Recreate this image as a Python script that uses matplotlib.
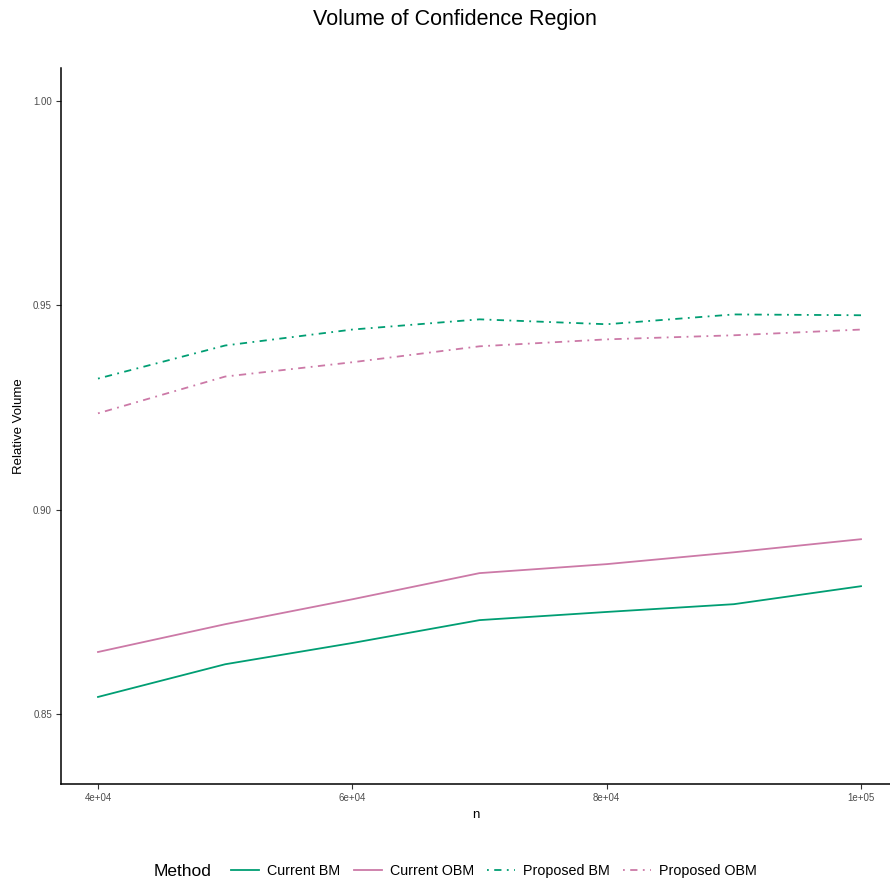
import matplotlib
matplotlib.use("Agg")
import matplotlib.pyplot as plt
from matplotlib.lines import Line2D

plt.rcParams['font.family'] = ['Liberation Sans', 'DejaVu Sans']

n_values = [40000, 50000, 60000, 70000, 80000, 90000, 100000]
current_bm = [0.8542, 0.8622, 0.8674, 0.8730, 0.8750, 0.8769, 0.8813]
current_obm = [0.8652, 0.8720, 0.8781, 0.8845, 0.8867, 0.8896, 0.8928]
proposed_bm = [0.9321, 0.9402, 0.9441, 0.9466, 0.9454, 0.9478, 0.9476]
proposed_obm = [0.9236, 0.9326, 0.9361, 0.9400, 0.9417, 0.9427, 0.9441]

methods = ["Current BM", "Current OBM", "Proposed BM", "Proposed OBM"]
x_ticks = [40000, 60000, 80000, 100000]
x_tick_labels = ["4e+04", "6e+04", "8e+04", "1e+05"]
y_ticks = [0.85, 0.90, 0.95, 1.00]
y_tick_labels = ["0.85", "0.90", "0.95", "1.00"]

GREEN = "#009E73"
PINK = "#CC79A7"
DOTDASH = (0, (1, 3, 4, 3))
LW = 1.3

W, H = 890, 884
fig = plt.figure(figsize=(W / 100, H / 100), dpi=100)
ax = fig.add_axes([61 / W, 1 - 784 / H, (890 - 61) / W, (784 - 68) / H])

series = [current_bm, current_obm, proposed_bm, proposed_obm]
colors = [GREEN, PINK, GREEN, PINK]
styles = ["-", "-", DOTDASH, DOTDASH]
for vals, c, ls, name in zip(series, colors, styles, methods):
    ax.plot(n_values, vals, color=c, linestyle=ls, lw=LW, label=name)

ax.set_xlim(37090, 102280)
ax.set_ylim(0.8329, 1.0081)
ax.set_xticks(x_ticks)
ax.set_xticklabels(x_tick_labels)
ax.set_yticks(y_ticks)
ax.set_yticklabels(y_tick_labels)

for side in ["top", "right"]:
    ax.spines[side].set_visible(False)
for side in ["left", "bottom"]:
    ax.spines[side].set_linewidth(1.1)
    ax.spines[side].set_color("black")
ax.tick_params(axis="both", length=3.5, width=0.8, color="#333333",
               labelsize=7, labelcolor="#4d4d4d", pad=3)

ax.set_xlabel("n", fontsize=9.5, labelpad=4)
ax.set_ylabel("Relative Volume", fontsize=9.5, labelpad=6)
fig.text(455 / W, 1 - 19 / H, "Volume of Confidence Region", fontsize=15.5,
         ha="center", va="center")

# legend along the bottom, with its title to the left
fig.text(154 / W, 1 - 871 / H, "Method", fontsize=12.5, ha="left", va="center")
handles = [Line2D([0], [0], color=c, linestyle=ls, lw=LW)
           for c, ls in zip(colors, styles)]
fig.legend(handles, methods, loc="center left", ncol=4,
           bbox_to_anchor=(231 / W, 1 - 871 / H), frameon=False,
           fontsize=10.3, handlelength=1.95, handletextpad=0.56,
           columnspacing=0.95, borderaxespad=0, borderpad=0)

fig.savefig("out.png", dpi=100)
